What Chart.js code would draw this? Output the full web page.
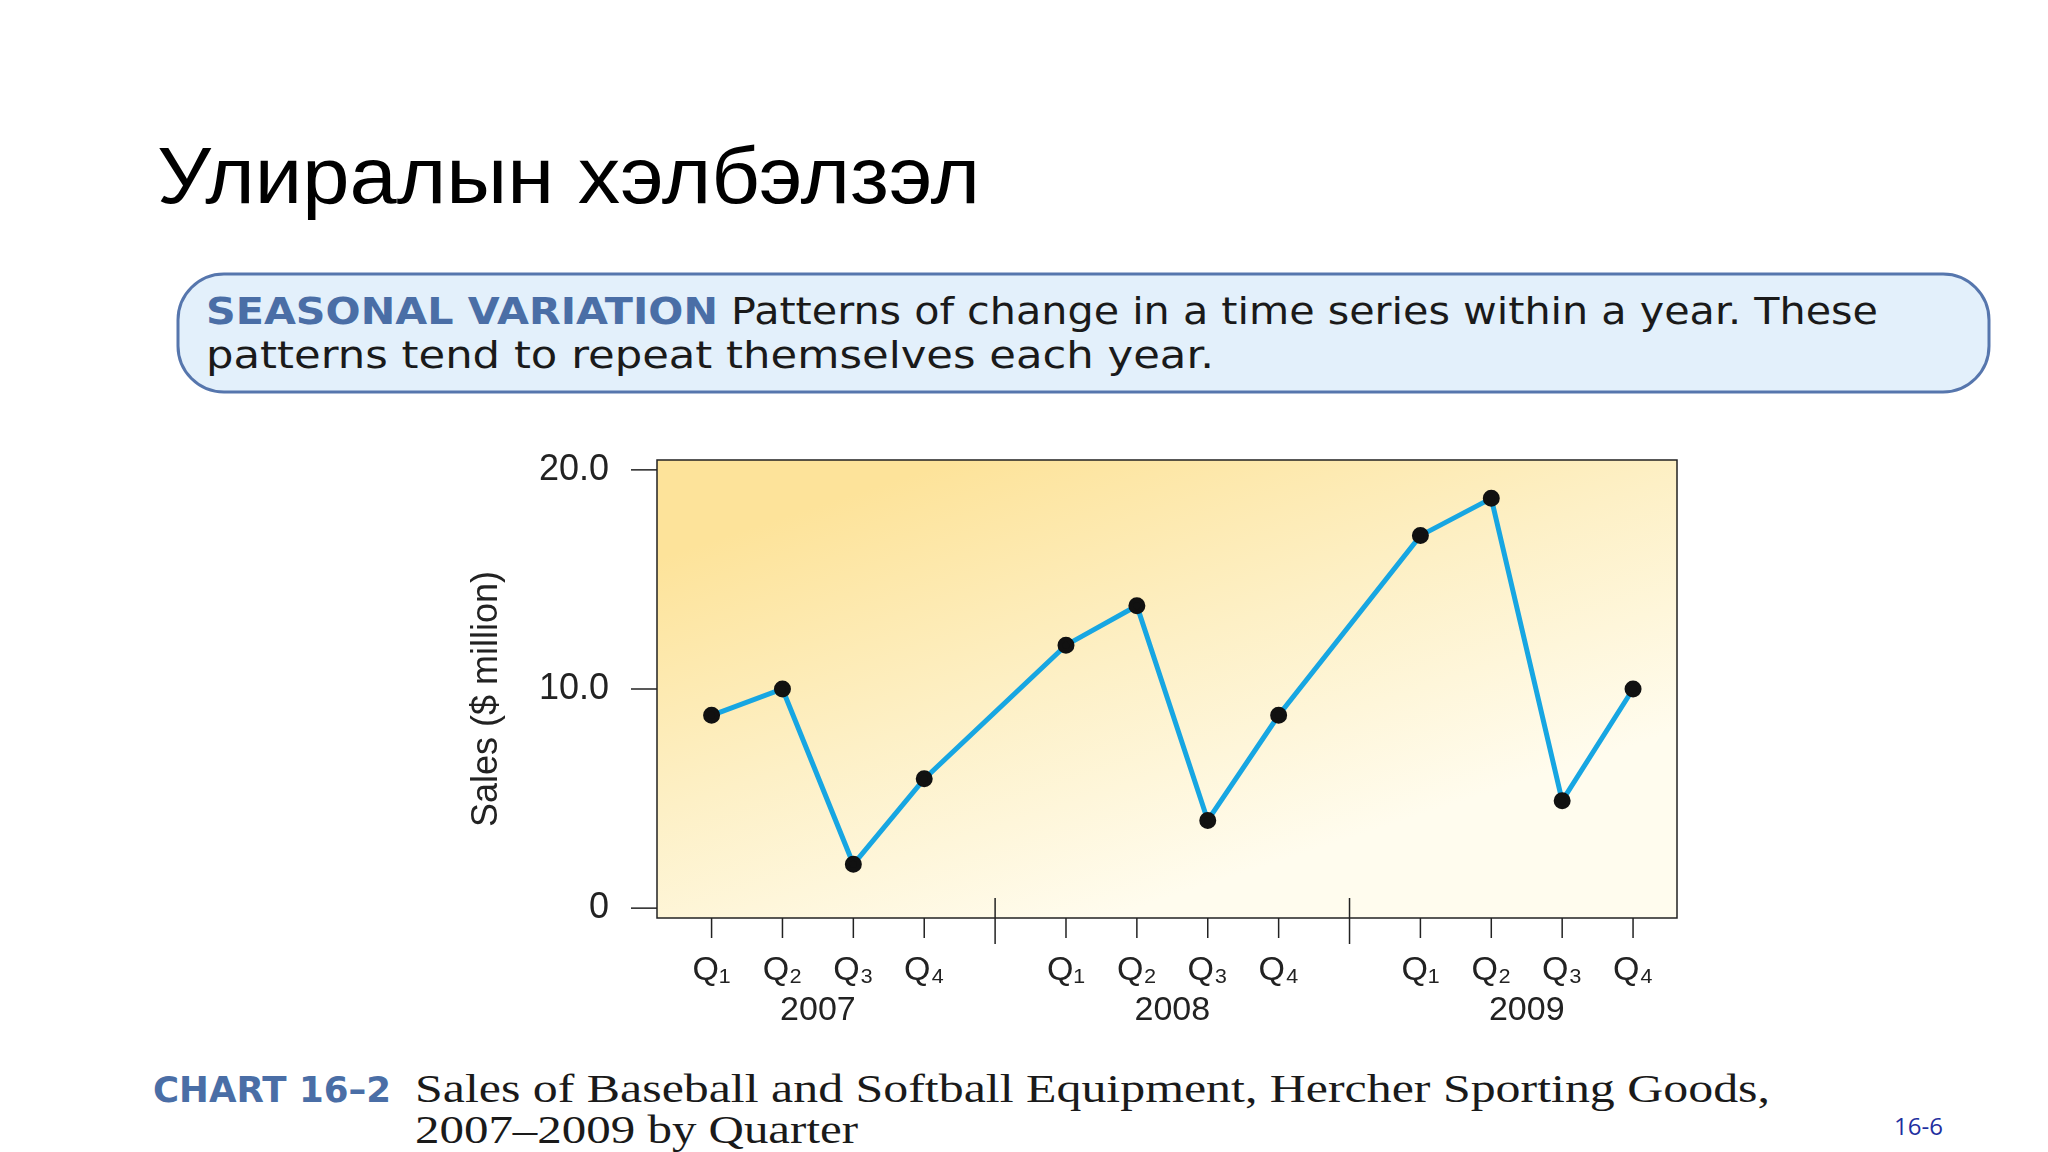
<!DOCTYPE html>
<html><head><meta charset="utf-8">
<script src="https://cdn.jsdelivr.net/npm/chart.js@4"></script>
<style>
html,body{margin:0;padding:0;background:#fff;width:2048px;height:1152px;overflow:hidden}
#c{position:absolute;left:0;top:0}
svg{position:absolute;left:0;top:0}
</style></head><body>
<svg width="2048" height="1152">
<text x="157" y="203" font-family="Liberation Sans, Arial" font-size="80" fill="#000" textLength="823" lengthAdjust="spacingAndGlyphs">Улиралын хэлбэлзэл</text>
<rect x="178" y="274" width="1811" height="118" rx="46" ry="46" fill="#e3f0fb" stroke="#5676ad" stroke-width="3"/>
<text x="206" y="324" font-family="DejaVu Sans, Arial" font-size="38" textLength="1672" lengthAdjust="spacingAndGlyphs"><tspan font-weight="bold" fill="#4a6ea6">SEASONAL VARIATION</tspan><tspan fill="#1a1a1a">  Patterns of change in a time series within a year. These</tspan></text>
<text x="206" y="368" font-family="DejaVu Sans, Arial" font-size="38" fill="#1a1a1a" textLength="1008" lengthAdjust="spacingAndGlyphs">patterns tend to repeat themselves each year.</text>
<text x="153" y="1102" font-family="DejaVu Sans, Arial" font-size="36" font-weight="bold" fill="#4a6ea6" textLength="238" lengthAdjust="spacingAndGlyphs">CHART 16–2</text>
<text x="415" y="1102" font-family="Liberation Serif, serif" font-size="40" fill="#1a1a1a" textLength="1355" lengthAdjust="spacingAndGlyphs">Sales of Baseball and Softball Equipment, Hercher Sporting Goods,</text>
<text x="415" y="1143" font-family="Liberation Serif, serif" font-size="40" fill="#1a1a1a" textLength="443" lengthAdjust="spacingAndGlyphs">2007–2009 by Quarter</text>
<text x="1894" y="1135" font-family="Open Sans, Arial" font-size="24" fill="#1f2fa0">16-6</text>
</svg>
<canvas id="c" width="2048" height="1152"></canvas>
<script>
const quarters = ["Q₁","Q₂","Q₃","Q₄","Q₁","Q₂","Q₃","Q₄","Q₁","Q₂","Q₃","Q₄"];
const positions = [0,1,2,3,5,6,7,8,10,11,12,13];
const sales = [8.8,10.0,2.0,5.9,12.0,13.8,4.0,8.8,17.0,18.7,4.9,10.0];
const years = ["2007","2008","2009"];
const yearCenters = [1.5,6.5,11.5];
const separators = [4,9];
const yTicks = [0,10,20];
const yTickLabels = ["0","10.0","20.0"];
const yTitle = "Sales ($ million)";

const deco = {
  id:'deco',
  beforeDatasetsDraw(ch){
    const {ctx, chartArea:a} = ch;
    const g = ctx.createLinearGradient(a.left+300, a.top, a.left+450, a.bottom);
    g.addColorStop(0,'#fde39a'); g.addColorStop(0.5,'#fdf0c6'); g.addColorStop(1,'#fffcee');
    ctx.save(); ctx.fillStyle=g; ctx.fillRect(a.left,a.top,a.right-a.left,a.bottom-a.top); ctx.restore();
  },
  afterDraw(ch){
    const {ctx, chartArea:a, scales:{x,y}} = ch;
    ctx.save();
    ctx.strokeStyle='#222'; ctx.lineWidth=1.5;
    ctx.strokeRect(a.left,a.top,a.right-a.left,a.bottom-a.top);
    ctx.fillStyle='#222';
    ctx.font='36px "Liberation Sans Narrow", "Liberation Sans", Arial';
    ctx.textAlign='right'; ctx.textBaseline='middle';
    yTicks.forEach((v,i)=>{const py=y.getPixelForValue(v);
      ctx.beginPath(); ctx.moveTo(a.left-26,py); ctx.lineTo(a.left,py); ctx.stroke();
      ctx.fillText(yTickLabels[i], a.left-48, py);});
    ctx.textAlign='center'; ctx.textBaseline='alphabetic';
    ctx.font='34px "Liberation Sans", Arial';
    positions.forEach((p,i)=>{const px=x.getPixelForValue(p);
      ctx.beginPath(); ctx.moveTo(px,a.bottom); ctx.lineTo(px,a.bottom+20); ctx.stroke();
      ctx.fillText(quarters[i], px, a.bottom+62);});
    separators.forEach(p=>{const px=x.getPixelForValue(p);
      ctx.beginPath(); ctx.moveTo(px,a.bottom-20); ctx.lineTo(px,a.bottom+26); ctx.stroke();});
    ctx.font='34px "Liberation Sans", Arial';
    years.forEach((t,i)=>ctx.fillText(t, x.getPixelForValue(yearCenters[i]), a.bottom+102));
    ctx.translate(a.left-160, (a.top+a.bottom)/2+10); ctx.rotate(-Math.PI/2);
    ctx.font='36px "Liberation Sans Narrow", "Liberation Sans", Arial';
    ctx.fillText(yTitle,0,0);
    ctx.restore();
  }
};
new Chart(document.getElementById('c'),{
  type:'line',
  data:{datasets:[{data:positions.map((p,i)=>({x:p,y:sales[i]})),
    borderColor:'#17a6e2', borderWidth:5, pointBackgroundColor:'#111', pointBorderColor:'#111',
    pointRadius:6, tension:0}]},
  options:{responsive:false, animation:false, devicePixelRatio:1,
    layout:{padding:{left:657,top:460,right:371,bottom:234}},
    plugins:{legend:{display:false},tooltip:{enabled:false}},
    scales:{x:{type:'linear',min:-0.77,max:13.62,display:false},
            y:{min:-0.45,max:20.45,display:false}}},
  plugins:[deco]
});
</script>
</body></html>
